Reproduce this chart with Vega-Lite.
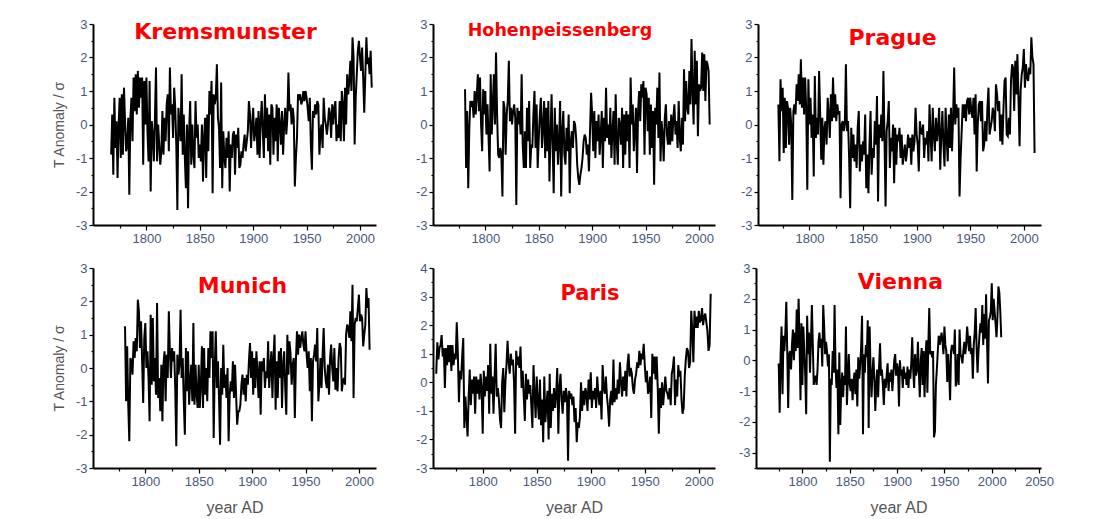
{
"$schema": "https://vega.github.io/schema/vega-lite/v6.json",
"background": "white",
"padding": {"left": 52, "top": 18, "right": 5, "bottom": 5},
"data": {"values": [
{"year":1757,"A":0.3},{"year":1758,"A":1.4},{"year":1759,"A":0.8},{"year":1760,"A":1.2},{"year":1761,"A":1.3},{"year":1762,"A":1.65},{"year":1763,"A":0.9},{"year":1764,"A":1.2},{"year":1765,"A":-0.2},{"year":1766,"A":1.2},
{"year":1767,"K":-0.9,"A":0.6},{"year":1768,"K":0.3,"A":1.3},{"year":1769,"K":-1.5,"A":0.7},{"year":1770,"K":0.8,"A":1.3},
{"year":1771,"K":-0.7,"P":0.6,"A":0.4},{"year":1772,"K":0.1,"P":-1.1,"A":1.3},{"year":1773,"K":-1.6,"P":1.35,"A":0.6},{"year":1774,"K":0.0,"P":0.4,"A":1.0},
{"year":1775,"K":0.8,"P":1.1,"A":0.8,"V":-0.1},{"year":1776,"K":-1.0,"P":-0.85,"A":2.1,"V":-1.7},{"year":1777,"K":0.9,"P":0.8,"A":1.0,"V":0.2},{"year":1778,"K":-0.9,"P":-0.7,"A":-0.7,"V":1.1},{"year":1779,"K":1.1,"P":0.7,"A":0.4,"V":-1.1},{"year":1780,"K":0.1,"P":0.5,"A":0.1,"V":0.8},
{"year":1781,"K":-0.8,"H":1.05,"P":-0.6,"M":1.25,"A":0.9,"V":0.3},
{"year":1782,"K":-0.6,"H":-1.3,"P":0.5,"M":-1.0,"A":1.55,"V":0.9},
{"year":1783,"K":0.2,"H":0.4,"P":0.0,"M":0.65,"A":-1.6,"V":1.9},
{"year":1784,"K":-2.1,"H":-1.9,"P":-2.25,"M":-1.1,"A":-0.5,"V":0.3},
{"year":1785,"K":0.2,"H":-0.1,"P":0.4,"M":-2.2,"A":-1.2,"V":-1.55},
{"year":1786,"K":0.8,"H":0.7,"P":0.6,"M":0.3,"A":-1.9,"V":0.2},
{"year":1787,"K":-0.5,"H":0.6,"P":0.3,"M":0.2,"A":-0.5,"V":0.3},
{"year":1788,"K":1.4,"H":0.7,"P":1.2,"M":-0.2,"A":0.45,"V":-0.3},
{"year":1789,"K":0.4,"H":0.2,"P":0.7,"M":0.8,"A":-0.8,"V":0.5},
{"year":1790,"K":1.5,"H":1.0,"P":1.5,"M":0.3,"A":0.1,"V":1.0},
{"year":1791,"K":0.3,"H":0.3,"P":0.6,"M":0.9,"A":-0.4,"V":0.0},
{"year":1792,"K":1.6,"H":0.9,"P":1.95,"M":0.5,"A":0.2,"V":0.9},
{"year":1793,"K":0.5,"H":1.5,"P":0.5,"M":2.05,"A":-1.1,"V":0.3},
{"year":1794,"K":1.4,"H":0.4,"P":1.4,"M":1.7,"A":0.2,"V":1.65},
{"year":1795,"K":0.8,"H":1.4,"P":0.3,"M":0.6,"A":-0.4,"V":0.4},
{"year":1796,"K":1.4,"H":0.0,"P":1.4,"M":1.4,"A":0.1,"V":2.0},
{"year":1797,"K":-1.2,"H":-0.8,"P":0.4,"M":0.2,"A":-0.6,"V":0.6},
{"year":1798,"K":1.3,"H":1.05,"P":-1.95,"M":-1.05,"A":0.3,"V":-1.3},
{"year":1799,"K":0.0,"H":0.3,"P":1.35,"M":0.9,"A":-0.2,"V":1.2},
{"year":1800,"K":1.4,"H":1.0,"P":0.0,"M":1.35,"A":-1.8,"V":-0.8},
{"year":1801,"K":-0.2,"H":-0.3,"P":0.8,"M":0.0,"A":0.4,"V":1.1},
{"year":1802,"K":-1.1,"H":0.6,"P":-0.4,"M":0.5,"A":-0.5,"V":0.3},
{"year":1803,"K":1.3,"H":-0.4,"P":0.3,"M":-0.3,"A":0.2,"V":-0.5},
{"year":1804,"K":-2.0,"H":-1.4,"P":-1.55,"M":-1.6,"A":-0.3,"V":-1.75},
{"year":1805,"K":0.1,"H":1.5,"P":1.45,"M":1.6,"A":0.6,"V":1.45},
{"year":1806,"K":-0.3,"H":-0.3,"P":-0.4,"M":-0.5,"A":-1.1,"V":0.2},
{"year":1807,"K":-1.1,"H":0.6,"P":0.2,"M":1.5,"A":1.35,"V":0.9},
{"year":1808,"K":0.2,"H":1.5,"P":-0.3,"M":-0.4,"A":-0.4,"V":-0.4},
{"year":1809,"K":1.7,"H":0.0,"P":1.6,"M":0.3,"A":0.2,"V":0.6},
{"year":1810,"K":-1.1,"H":2.15,"P":0.3,"M":-0.8,"A":-1.1,"V":1.8},
{"year":1811,"K":0.0,"H":0.3,"P":-1.05,"M":1.95,"A":0.2,"V":0.5},
{"year":1812,"K":-0.6,"H":-0.9,"P":0.2,"M":-0.9,"A":1.35,"V":-0.8},
{"year":1813,"K":-1.2,"H":-1.0,"P":-1.2,"M":-0.3,"A":-0.5,"V":-0.6},
{"year":1814,"K":-0.8,"H":-0.7,"P":-0.1,"M":-1.3,"A":-0.2,"V":-0.5},
{"year":1815,"K":0.4,"H":-0.9,"P":0.1,"M":0.1,"A":-0.6,"V":-0.8},
{"year":1816,"K":-0.9,"H":-2.15,"P":-0.6,"M":-1.6,"A":-1.3,"V":-0.3},
{"year":1817,"K":0.2,"H":0.7,"P":0.8,"M":0.1,"A":-1.6,"V":0.6},
{"year":1818,"K":-0.5,"H":0.5,"P":0.3,"M":0.5,"A":0.0,"V":0.9},
{"year":1819,"K":0.6,"H":-0.9,"P":-0.4,"M":-1.0,"A":0.5,"V":0.4},
{"year":1820,"K":0.9,"H":0.3,"P":0.9,"M":0.4,"A":-1.05,"V":0.7},
{"year":1821,"K":-0.8,"H":0.7,"P":0.1,"M":-0.3,"A":0.0,"V":-0.2},
{"year":1822,"K":1.7,"H":1.9,"P":1.4,"M":1.7,"A":0.6,"V":1.8},
{"year":1823,"K":0.3,"H":0.1,"P":0.2,"M":0.5,"A":1.45,"V":1.1},
{"year":1824,"K":0.6,"H":0.5,"P":0.9,"M":-0.3,"A":0.7,"V":0.2},
{"year":1825,"K":-0.4,"H":0.0,"P":0.1,"M":0.6,"A":0.3,"V":0.6},
{"year":1826,"K":1.1,"H":0.4,"P":0.6,"M":0.2,"A":1.0,"V":0.3},
{"year":1827,"K":0.5,"H":0.6,"P":0.3,"M":0.5,"A":0.6,"V":-0.2},
{"year":1828,"K":-0.6,"H":0.2,"P":0.4,"M":-0.6,"A":0.8,"V":0.2},
{"year":1829,"K":-2.55,"H":-2.4,"P":-2.2,"M":-2.35,"A":0.0,"V":-3.3},
{"year":1830,"K":0.5,"H":0.5,"P":0.0,"M":0.4,"A":-1.8,"V":-0.6},
{"year":1831,"K":0.0,"H":0.0,"P":0.1,"M":-0.2,"A":1.1,"V":-0.8},
{"year":1832,"K":-0.5,"H":0.4,"P":-0.2,"M":0.1,"A":0.6,"V":0.3},
{"year":1833,"K":1.5,"H":-0.3,"P":0.0,"M":1.75,"A":0.9,"V":-0.4},
{"year":1834,"K":-0.9,"H":1.5,"P":1.8,"M":-0.3,"A":0.5,"V":1.8},
{"year":1835,"K":0.3,"H":-0.6,"P":-0.2,"M":0.3,"A":1.25,"V":-0.2},
{"year":1836,"K":-1.0,"H":-1.3,"P":0.1,"M":-1.0,"A":-0.2,"V":-0.9},
{"year":1837,"K":-1.9,"H":-0.2,"P":-1.0,"M":-2.0,"A":0.4,"V":-0.3},
{"year":1838,"K":0.0,"H":-1.3,"P":-2.5,"M":0.6,"A":-0.5,"V":-2.4},
{"year":1839,"K":-2.5,"H":0.5,"P":-0.1,"M":-0.7,"A":-1.35,"V":0.25},
{"year":1840,"K":-0.2,"H":-0.5,"P":-1.0,"M":0.5,"A":0.3,"V":-2.1},
{"year":1841,"K":0.7,"H":0.7,"P":-0.3,"M":-1.1,"A":-0.6,"V":-0.9},
{"year":1842,"K":-1.2,"H":-1.3,"P":-1.1,"M":-0.4,"A":0.1,"V":-0.4},
{"year":1843,"K":0.0,"H":-0.6,"P":-0.6,"M":0.1,"A":-0.4,"V":-1.2},
{"year":1844,"K":-0.9,"H":-0.7,"P":-1.3,"M":-1.0,"A":-0.1,"V":-0.5},
{"year":1845,"K":-1.3,"H":0.3,"P":-0.1,"M":1.35,"A":-0.8,"V":-0.8},
{"year":1846,"K":0.7,"H":1.0,"P":0.4,"M":-1.1,"A":-1.6,"V":1.1},
{"year":1847,"K":-0.4,"H":-0.7,"P":-1.4,"M":0.1,"A":0.6,"V":-1.45},
{"year":1848,"K":0.0,"H":0.6,"P":-0.6,"M":-0.8,"A":-0.4,"V":-0.6},
{"year":1849,"K":-1.0,"H":-1.3,"P":-1.1,"M":-1.2,"A":-1.25,"V":0.2},
{"year":1850,"K":-0.6,"H":-0.4,"P":-0.5,"M":0.1,"A":0.2,"V":-0.8},
{"year":1851,"K":-1.1,"H":0.3,"P":-0.9,"M":-1.2,"A":-0.7,"V":-1.0},
{"year":1852,"K":0.0,"H":0.8,"P":0.3,"M":-0.5,"A":-1.3,"V":-0.6},
{"year":1853,"K":-1.7,"H":-0.7,"P":-1.9,"M":0.65,"A":0.1,"V":-1.3},
{"year":1854,"K":-0.4,"H":-0.1,"P":-0.9,"M":-1.2,"A":-1.5,"V":-0.7},
{"year":1855,"K":0.2,"H":0.7,"P":-2.05,"M":0.6,"A":-0.6,"V":-0.4},
{"year":1856,"K":-1.6,"H":-1.0,"P":-0.6,"M":-0.8,"A":-2.1,"V":-1.1},
{"year":1857,"K":0.3,"H":0.5,"P":0.4,"M":0.0,"A":0.2,"V":-0.3},
{"year":1858,"K":-0.8,"H":-0.8,"P":-1.5,"M":-1.0,"A":-1.4,"V":-1.5},
{"year":1859,"K":1.0,"H":0.7,"P":-0.7,"M":0.6,"A":-0.8,"V":0.1},
{"year":1860,"K":0.3,"H":-1.7,"P":-1.0,"M":-0.3,"A":-0.3,"V":-0.6},
{"year":1861,"K":1.3,"H":-0.4,"P":0.1,"M":1.1,"A":-2.0,"V":-0.2},
{"year":1862,"K":-2.05,"H":0.9,"P":-0.6,"M":0.3,"A":0.3,"V":0.4},
{"year":1863,"K":0.9,"H":-0.6,"P":0.85,"M":1.1,"A":-1.6,"V":1.45},
{"year":1864,"K":0.6,"H":-2.05,"P":-2.3,"M":-2.1,"A":-0.4,"V":-2.4},
{"year":1865,"K":0.8,"H":0.5,"P":0.0,"M":0.0,"A":-1.0,"V":0.2},
{"year":1866,"K":1.8,"H":-0.8,"P":-0.4,"M":1.1,"A":-0.2,"V":-0.4},
{"year":1867,"K":0.2,"H":0.0,"P":0.3,"M":-0.6,"A":-0.9,"V":0.5},
{"year":1868,"K":-0.1,"H":-1.2,"P":-0.5,"M":0.2,"A":-0.4,"V":0.1},
{"year":1869,"K":-1.3,"H":-0.5,"P":1.6,"M":-0.9,"A":0.5,"V":1.3},
{"year":1870,"K":1.25,"H":0.7,"P":-0.4,"M":-2.3,"A":-1.8,"V":-2.2},
{"year":1871,"K":-1.9,"H":-2.15,"P":-2.45,"M":0.0,"A":-0.2,"V":1.1},
{"year":1872,"K":-0.2,"H":-0.2,"P":-0.2,"M":-0.8,"A":0.3,"V":-0.3},
{"year":1873,"K":-1.0,"H":0.4,"P":0.1,"M":0.7,"A":-0.6,"V":-1.2},
{"year":1874,"K":-1.3,"H":-0.9,"P":0.7,"M":-0.6,"A":-1.1,"V":-0.4},
{"year":1875,"K":-0.4,"H":-1.2,"P":-1.3,"M":-0.2,"A":-0.3,"V":0.1},
{"year":1876,"K":-1.0,"H":-0.1,"P":-0.4,"M":-0.9,"A":-0.7,"V":-0.6},
{"year":1877,"K":-0.2,"H":-0.8,"P":-0.8,"M":0.0,"A":-0.2,"V":-1.65},
{"year":1878,"K":-2.0,"H":0.3,"P":0.0,"M":-2.2,"A":-0.5,"V":-0.8},
{"year":1879,"K":-0.6,"H":-2.05,"P":-1.75,"M":-0.8,"A":-2.75,"V":-0.3},
{"year":1880,"K":-1.0,"H":-0.5,"P":-0.1,"M":-0.4,"A":-0.3,"V":-1.2},
{"year":1881,"K":-0.3,"H":-0.2,"P":-1.2,"M":-0.7,"A":-0.5,"V":-0.2},
{"year":1882,"K":-0.2,"H":-0.7,"P":-0.3,"M":0.2,"A":-0.4,"V":0.55},
{"year":1883,"K":-1.5,"H":0.1,"P":-0.5,"M":-0.9,"A":-0.8,"V":-0.5},
{"year":1884,"K":-0.3,"H":0.0,"P":-0.1,"M":0.1,"A":-0.5,"V":-0.3},
{"year":1885,"K":-0.7,"H":-0.4,"P":-1.0,"M":-0.8,"A":-1.4,"V":-0.8},
{"year":1886,"K":-0.1,"H":-1.2,"P":-0.3,"M":-1.7,"A":-0.9,"V":-1.45},
{"year":1887,"K":-1.3,"H":-1.6,"P":-1.2,"M":-1.3,"A":-2.1,"V":-0.6},
{"year":1888,"K":-1.2,"H":-1.8,"P":-0.9,"M":-1.3,"A":-1.4,"V":-0.9},
{"year":1889,"K":-0.8,"H":-1.5,"P":-0.6,"M":-1.1,"A":-1.6,"V":-0.5},
{"year":1890,"K":-1.0,"H":-1.3,"P":-1.1,"M":-0.5,"A":-1.2,"V":-0.1},
{"year":1891,"K":-0.6,"H":-1.0,"P":-0.8,"M":-0.2,"A":0.0,"V":-1.0},
{"year":1892,"K":-0.3,"H":-0.5,"P":-0.3,"M":-0.8,"A":-1.0,"V":-0.4},
{"year":1893,"K":-0.8,"H":-0.3,"P":-0.7,"M":-0.3,"A":-0.3,"V":-0.7},
{"year":1894,"K":-0.5,"H":-0.4,"P":-0.4,"M":-1.0,"A":-0.8,"V":-0.3},
{"year":1895,"K":-0.2,"H":-0.9,"P":-1.2,"M":-0.2,"A":-0.2,"V":-1.0},
{"year":1896,"K":0.7,"H":-0.6,"P":-0.3,"M":-0.5,"A":-0.4,"V":-0.5},
{"year":1897,"K":0.3,"H":-1.4,"P":-0.8,"M":0.2,"A":-1.0,"V":0.0},
{"year":1898,"K":-0.7,"H":-0.2,"P":-0.5,"M":0.75,"A":0.1,"V":0.2},
{"year":1899,"K":0.0,"H":0.95,"P":0.5,"M":-0.3,"A":-0.6,"V":-0.5},
{"year":1900,"K":0.5,"H":0.3,"P":-0.3,"M":0.5,"A":0.35,"V":-0.1},
{"year":1901,"K":-0.5,"H":-0.8,"P":-0.6,"M":-0.8,"A":-0.9,"V":-0.3},
{"year":1902,"K":-0.2,"H":0.4,"P":-1.4,"M":0.3,"A":-0.3,"V":-1.5},
{"year":1903,"K":0.2,"H":-1.0,"P":0.1,"M":-0.6,"A":-0.6,"V":0.0},
{"year":1904,"K":-0.9,"H":0.1,"P":-0.2,"M":0.5,"A":-0.2,"V":-0.5},
{"year":1905,"K":0.4,"H":-0.5,"P":-0.3,"M":-0.1,"A":-0.9,"V":-0.3},
{"year":1906,"K":-1.0,"H":0.3,"P":0.0,"M":-0.9,"A":0.2,"V":-0.9},
{"year":1907,"K":0.1,"H":-0.9,"P":-1.0,"M":0.2,"A":-0.4,"V":-0.2},
{"year":1908,"K":0.7,"H":-0.3,"P":-0.4,"M":-1.4,"A":-0.8,"V":-0.6},
{"year":1909,"K":-0.2,"H":0.4,"P":-0.6,"M":0.2,"A":-0.3,"V":-0.4},
{"year":1910,"K":-1.0,"H":-1.3,"P":-0.2,"M":-0.1,"A":-1.3,"V":-0.8},
{"year":1911,"K":0.9,"H":0.2,"P":-1.1,"M":0.3,"A":0.6,"V":-0.2},
{"year":1912,"K":-0.4,"H":-0.5,"P":0.6,"M":-0.6,"A":-0.2,"V":-0.9},
{"year":1913,"K":0.5,"H":1.1,"P":-0.3,"M":-0.1,"A":-0.4,"V":-0.3},
{"year":1914,"K":-0.8,"H":-0.4,"P":-1.1,"M":-0.3,"A":0.2,"V":-0.6},
{"year":1915,"K":0.3,"H":0.0,"P":0.5,"M":0.8,"A":-0.5,"V":-0.1},
{"year":1916,"K":-1.2,"H":-0.6,"P":-0.3,"M":-0.6,"A":-0.9,"V":0.75},
{"year":1917,"K":0.6,"H":0.5,"P":-0.8,"M":0.0,"A":-1.55,"V":-0.3},
{"year":1918,"K":0.5,"H":-1.0,"P":0.2,"M":0.5,"A":-0.6,"V":-0.9},
{"year":1919,"K":-0.9,"H":-0.2,"P":-0.5,"M":-0.9,"A":-0.3,"V":0.2},
{"year":1920,"K":0.2,"H":0.4,"P":-0.1,"M":0.3,"A":-0.8,"V":-0.5},
{"year":1921,"K":-0.5,"H":-1.2,"P":0.5,"M":1.0,"A":0.8,"V":-0.3},
{"year":1922,"K":0.6,"H":0.9,"P":-1.35,"M":-1.25,"A":-0.7,"V":0.6},
{"year":1923,"K":-1.1,"H":-0.5,"P":-0.3,"M":0.2,"A":-0.2,"V":-0.4},
{"year":1924,"K":0.5,"H":-1.2,"P":0.4,"M":-0.9,"A":-0.6,"V":-1.2},
{"year":1925,"K":0.0,"H":0.2,"P":-0.6,"M":0.5,"A":0.1,"V":0.0},
{"year":1926,"K":-0.6,"H":0.0,"P":-1.25,"M":-0.3,"A":-0.4,"V":0.4},
{"year":1927,"K":0.4,"H":-0.6,"P":0.5,"M":0.6,"A":0.7,"V":-0.8},
{"year":1928,"K":-0.9,"H":0.5,"P":-0.4,"M":-1.2,"A":0.0,"V":0.3},
{"year":1929,"K":0.0,"H":-1.3,"P":-1.1,"M":0.1,"A":-0.5,"V":-1.2},
{"year":1930,"K":0.5,"H":0.3,"P":0.3,"M":0.5,"A":0.2,"V":0.1},
{"year":1931,"K":-0.3,"H":-0.9,"P":-0.7,"M":-0.6,"A":-0.3,"V":0.65},
{"year":1932,"K":0.2,"H":0.4,"P":0.5,"M":-1.4,"A":0.4,"V":-1.05},
{"year":1933,"K":1.55,"H":-0.5,"P":-0.8,"M":1.0,"A":-0.5,"V":0.5},
{"year":1934,"K":0.4,"H":0.3,"P":0.2,"M":-0.2,"A":0.6,"V":1.7},
{"year":1935,"K":0.6,"H":-1.3,"P":1.7,"M":0.8,"A":1.0,"V":0.2},
{"year":1936,"K":0.0,"H":1.4,"P":0.0,"M":0.4,"A":0.2,"V":0.3},
{"year":1937,"K":0.5,"H":0.0,"P":0.6,"M":-0.5,"A":0.5,"V":0.1},
{"year":1938,"K":0.2,"H":0.6,"P":0.2,"M":0.1,"A":0.3,"V":0.3},
{"year":1939,"K":-1.85,"H":-0.8,"P":0.5,"M":0.3,"A":-0.2,"V":-2.5},
{"year":1940,"K":-1.0,"H":-0.2,"P":-2.15,"M":-1.5,"A":-0.4,"V":-2.3},
{"year":1941,"K":-0.4,"H":0.5,"P":-1.0,"M":0.2,"A":0.1,"V":-0.8},
{"year":1942,"K":0.9,"H":-1.45,"P":-0.2,"M":1.1,"A":0.3,"V":-0.3},
{"year":1943,"K":0.8,"H":0.4,"P":0.6,"M":0.4,"A":0.7,"V":0.3},
{"year":1944,"K":0.9,"H":1.0,"P":0.2,"M":1.0,"A":0.5,"V":0.8},
{"year":1945,"K":0.6,"H":0.1,"P":0.6,"M":0.6,"A":1.1,"V":0.5},
{"year":1946,"K":0.7,"H":1.2,"P":0.1,"M":0.9,"A":0.6,"V":0.7},
{"year":1947,"K":1.0,"H":0.8,"P":0.7,"M":1.1,"A":1.0,"V":0.9},
{"year":1948,"K":0.7,"H":1.3,"P":0.8,"M":0.7,"A":0.8,"V":0.6},
{"year":1949,"K":1.0,"H":-0.9,"P":0.3,"M":0.5,"A":1.35,"V":0.2},
{"year":1950,"K":0.8,"H":1.1,"P":0.8,"M":1.1,"A":0.6,"V":1.1},
{"year":1951,"K":0.5,"H":0.9,"P":0.4,"M":0.4,"A":0.0,"V":0.5},
{"year":1952,"K":0.1,"H":-0.2,"P":0.2,"M":0.0,"A":0.4,"V":0.3},
{"year":1953,"K":0.8,"H":0.8,"P":0.8,"M":0.5,"A":-0.4,"V":-0.7},
{"year":1954,"K":-0.6,"H":-0.9,"P":-0.3,"M":-0.7,"A":-0.2,"V":0.2},
{"year":1955,"K":-1.35,"H":0.6,"P":0.9,"M":0.3,"A":0.2,"V":-0.4},
{"year":1956,"K":0.4,"H":-0.7,"P":-1.4,"M":-1.6,"A":-1.25,"V":-1.3},
{"year":1957,"K":0.2,"H":0.4,"P":0.0,"M":0.2,"A":1.0,"V":0.3},
{"year":1958,"K":0.6,"H":-1.8,"P":0.6,"M":0.4,"A":0.3,"V":0.5},
{"year":1959,"K":0.3,"H":0.5,"P":0.7,"M":0.7,"A":0.9,"V":0.4},
{"year":1960,"K":0.7,"H":0.0,"P":0.1,"M":0.2,"A":0.1,"V":0.2},
{"year":1961,"K":0.6,"H":1.1,"P":0.7,"M":1.2,"A":0.9,"V":1.0},
{"year":1962,"K":-0.9,"H":-0.4,"P":-0.8,"M":-1.0,"A":-0.2,"V":-0.85},
{"year":1963,"K":-0.2,"H":1.55,"P":-0.6,"M":-0.5,"A":-1.8,"V":-0.6},
{"year":1964,"K":0.0,"H":-1.1,"P":0.1,"M":0.3,"A":-0.2,"V":0.2},
{"year":1965,"K":-0.7,"H":0.1,"P":-0.5,"M":-0.6,"A":-0.9,"V":-0.8},
{"year":1966,"K":0.8,"H":-0.3,"P":0.5,"M":0.4,"A":0.0,"V":1.0},
{"year":1967,"K":0.2,"H":-1.1,"P":1.1,"M":1.2,"A":-0.8,"V":0.2},
{"year":1968,"K":0.0,"H":0.2,"P":-0.3,"M":0.0,"A":-0.3,"V":0.1},
{"year":1969,"K":-0.3,"H":0.6,"P":-0.1,"M":-0.4,"A":0.2,"V":-0.1},
{"year":1970,"K":0.0,"H":-0.3,"P":0.1,"M":-0.6,"A":-0.3,"V":0.3},
{"year":1971,"K":0.5,"H":-0.6,"P":0.5,"M":0.1,"A":-0.4,"V":0.6},
{"year":1972,"K":0.3,"H":0.1,"P":0.3,"M":-0.8,"A":-0.6,"V":0.2},
{"year":1973,"K":-0.4,"H":-0.6,"P":-0.2,"M":0.3,"A":-0.2,"V":0.5},
{"year":1974,"K":0.6,"H":0.3,"P":1.2,"M":0.7,"A":-0.8,"V":1.1},
{"year":1975,"K":0.0,"H":-0.5,"P":0.9,"M":0.0,"A":0.3,"V":0.7},
{"year":1976,"K":0.5,"H":0.2,"P":0.4,"M":-0.4,"A":0.5,"V":0.3},
{"year":1977,"K":0.7,"H":0.6,"P":0.7,"M":0.6,"A":0.9,"V":0.8},
{"year":1978,"K":-0.5,"H":-0.3,"P":-0.5,"M":-0.65,"A":-0.8,"V":0.2},
{"year":1979,"K":0.0,"H":0.1,"P":0.3,"M":0.0,"A":0.1,"V":0.4},
{"year":1980,"K":-0.4,"H":-0.7,"P":-0.6,"M":-0.7,"A":-0.5,"V":-0.6},
{"year":1981,"K":0.7,"H":0.7,"P":0.5,"M":0.3,"A":0.6,"V":0.5},
{"year":1982,"K":-0.5,"H":-0.4,"P":1.3,"M":0.75,"A":0.2,"V":0.9},
{"year":1983,"K":1.0,"H":-0.8,"P":1.4,"M":0.6,"A":0.4,"V":1.7},
{"year":1984,"K":0.6,"H":0.2,"P":-0.3,"M":-0.7,"A":-0.6,"V":0.4},
{"year":1985,"K":-0.5,"H":-0.6,"P":-0.35,"M":-0.4,"A":-1.1,"V":-0.4},
{"year":1986,"K":1.1,"H":1.65,"P":0.2,"M":-0.3,"A":-0.9,"V":0.3},
{"year":1987,"K":0.0,"H":0.1,"P":-0.3,"M":-0.5,"A":0.2,"V":0.8},
{"year":1988,"K":1.5,"H":1.3,"P":1.3,"M":1.0,"A":0.8,"V":1.2},
{"year":1989,"K":0.9,"H":0.5,"P":1.8,"M":1.3,"A":1.2,"V":0.9},
{"year":1990,"K":1.3,"H":0.3,"P":1.7,"M":1.2,"A":1.1,"V":1.8},
{"year":1991,"K":1.9,"H":1.6,"P":0.4,"M":0.9,"A":0.5,"V":0.5},
{"year":1992,"K":1.0,"H":0.6,"P":1.9,"M":1.7,"A":0.7,"V":1.5},
{"year":1993,"K":2.6,"H":2.55,"P":0.9,"M":0.8,"A":2.5,"V":0.7},
{"year":1994,"K":2.0,"H":1.0,"P":2.1,"M":2.5,"A":1.8,"V":2.15},
{"year":1995,"K":-0.6,"H":0.0,"P":0.8,"M":-0.9,"A":0.7,"V":0.6},
{"year":1996,"K":0.8,"H":2.2,"P":-0.65,"M":1.3,"A":2.5,"V":-0.75},
{"year":1997,"K":1.5,"H":0.6,"P":1.0,"M":1.5,"A":1.9,"V":1.3},
{"year":1998,"K":2.2,"H":1.9,"P":1.5,"M":1.4,"A":2.3,"V":1.4},
{"year":1999,"K":2.5,"H":-0.35,"P":1.7,"M":1.8,"A":1.9,"V":1.6},
{"year":2000,"K":2.0,"H":1.2,"P":2.25,"M":2.2,"A":2.5,"V":2.5},
{"year":2001,"K":1.6,"H":1.0,"P":1.1,"M":1.4,"A":2.1,"V":1.3},
{"year":2002,"K":2.3,"H":1.1,"P":1.8,"M":1.6,"A":2.2,"V":2.0},
{"year":2003,"K":1.4,"H":2.15,"P":1.4,"M":1.5,"A":2.6,"V":1.6},
{"year":2004,"K":0.35,"H":1.0,"P":1.3,"M":0.65,"A":2.0,"V":1.2},
{"year":2005,"K":1.5,"H":2.1,"P":1.7,"M":1.0,"A":2.3,"V":0.75},
{"year":2006,"K":2.6,"H":0.7,"P":1.5,"M":1.3,"A":2.4,"V":1.4},
{"year":2007,"K":1.8,"H":1.9,"P":2.6,"M":2.4,"A":2.1,"V":2.4},
{"year":2008,"K":2.0,"H":1.8,"P":2.0,"M":1.8,"A":1.8,"V":2.2},
{"year":2009,"K":1.5,"H":1.6,"P":1.8,"M":2.1,"A":1.1,"V":1.6},
{"year":2010,"K":2.2,"H":0.0,"P":-0.85,"M":0.55,"A":1.3,"V":0.75},
{"year":2011,"K":1.1,"A":3.1}
]},
"vconcat": [
{"hconcat": [
 {"width": 283, "height": 201,
  "title": {"text": "Kremsmunster", "fontSize": 22, "offset": -26, "dx": -9},
  "transform": [{"filter": "isValid(datum.K)"}],
  "mark": {"type": "line", "color": "#000", "strokeWidth": 2},
  "encoding": {
   "x": {"field": "year", "type": "quantitative", "scale": {"domain": [1750, 2015], "nice": false, "zero": false},
    "axis": {"title": null, "values": [1775,1800,1825,1850,1875,1900,1925,1950,1975,2000], "labelExpr": "datum.value % 50 == 0 ? '' + datum.value : ''", "tickSize": {"condition": {"test": "datum.value % 50 != 0", "value": 3}, "value": 5}}},
   "y": {"field": "K", "type": "quantitative", "scale": {"domain": [-3, 3], "nice": false, "zero": false},
    "axis": {"title": "T Anomaly / σ", "values": [-3,-2.5,-2,-1.5,-1,-0.5,0,0.5,1,1.5,2,2.5,3], "labelExpr": "datum.value % 1 == 0 ? '' + datum.value : ''", "tickSize": {"condition": {"test": "datum.value % 1 != 0", "value": 2}, "value": 4}}}
  }},
 {"hconcat": [
  {"width": 282, "height": 201,
   "title": {"text": "Hohenpeissenberg", "fontSize": 17.5, "offset": -21, "dx": -14},
   "transform": [{"filter": "isValid(datum.H)"}],
   "mark": {"type": "line", "color": "#000", "strokeWidth": 2},
   "encoding": {
    "x": {"field": "year", "type": "quantitative", "scale": {"domain": [1751, 2015], "nice": false, "zero": false},
     "axis": {"title": null, "values": [1775,1800,1825,1850,1875,1900,1925,1950,1975,2000], "labelExpr": "datum.value % 50 == 0 ? '' + datum.value : ''", "tickSize": {"condition": {"test": "datum.value % 50 != 0", "value": 3}, "value": 5}}},
    "y": {"field": "H", "type": "quantitative", "scale": {"domain": [-3, 3], "nice": false, "zero": false},
     "axis": {"title": null, "values": [-3,-2.5,-2,-1.5,-1,-0.5,0,0.5,1,1.5,2,2.5,3], "labelExpr": "datum.value % 1 == 0 ? '' + datum.value : ''", "tickSize": {"condition": {"test": "datum.value % 1 != 0", "value": 2}, "value": 4}}}
   }},
  {"width": 283, "height": 201,
   "title": {"text": "Prague", "fontSize": 22, "offset": -32, "dx": -7},
   "transform": [{"filter": "isValid(datum.P)"}],
   "mark": {"type": "line", "color": "#000", "strokeWidth": 2},
   "encoding": {
    "x": {"field": "year", "type": "quantitative", "scale": {"domain": [1752, 2016], "nice": false, "zero": false},
     "axis": {"title": null, "values": [1775,1800,1825,1850,1875,1900,1925,1950,1975,2000], "labelExpr": "datum.value % 50 == 0 ? '' + datum.value : ''", "tickSize": {"condition": {"test": "datum.value % 50 != 0", "value": 3}, "value": 5}}},
    "y": {"field": "P", "type": "quantitative", "scale": {"domain": [-3, 3], "nice": false, "zero": false},
     "axis": {"title": null, "values": [-3,-2.5,-2,-1.5,-1,-0.5,0,0.5,1,1.5,2,2.5,3], "labelExpr": "datum.value % 1 == 0 ? '' + datum.value : ''", "tickSize": {"condition": {"test": "datum.value % 1 != 0", "value": 2}, "value": 4}}}
   }}
 ], "spacing": 25}
], "spacing": 39},
{"hconcat": [
 {"width": 283, "height": 200,
  "title": {"text": "Munich", "fontSize": 22, "offset": -36, "dx": 8},
  "transform": [{"filter": "isValid(datum.M)"}],
  "mark": {"type": "line", "color": "#000", "strokeWidth": 2},
  "encoding": {
   "x": {"field": "year", "type": "quantitative", "scale": {"domain": [1751, 2016], "nice": false, "zero": false},
    "axis": {"title": "year AD", "values": [1775,1800,1825,1850,1875,1900,1925,1950,1975,2000], "labelExpr": "datum.value % 50 == 0 ? '' + datum.value : ''", "tickSize": {"condition": {"test": "datum.value % 50 != 0", "value": 3}, "value": 5}}},
   "y": {"field": "M", "type": "quantitative", "scale": {"domain": [-3, 3], "nice": false, "zero": false},
    "axis": {"title": "T Anomaly / σ", "values": [-3,-2.5,-2,-1.5,-1,-0.5,0,0.5,1,1.5,2,2.5,3], "labelExpr": "datum.value % 1 == 0 ? '' + datum.value : ''", "tickSize": {"condition": {"test": "datum.value % 1 != 0", "value": 2}, "value": 4}}}
  }},
 {"hconcat": [
  {"width": 282, "height": 200,
   "title": {"text": "Paris", "fontSize": 21, "offset": -42, "dx": 16},
   "transform": [{"filter": "isValid(datum.A)"}],
   "mark": {"type": "line", "color": "#000", "strokeWidth": 2},
   "encoding": {
    "x": {"field": "year", "type": "quantitative", "scale": {"domain": [1754, 2015], "nice": false, "zero": false},
     "axis": {"title": "year AD", "values": [1775,1800,1825,1850,1875,1900,1925,1950,1975,2000], "labelExpr": "datum.value % 50 == 0 ? '' + datum.value : ''", "tickSize": {"condition": {"test": "datum.value % 50 != 0", "value": 3}, "value": 5}}},
    "y": {"field": "A", "type": "quantitative", "scale": {"domain": [-3, 4], "nice": false, "zero": false},
     "axis": {"title": null, "values": [-3,-2.5,-2,-1.5,-1,-0.5,0,0.5,1,1.5,2,2.5,3,3.5,4], "labelExpr": "datum.value % 1 == 0 ? '' + datum.value : ''", "tickSize": {"condition": {"test": "datum.value % 1 != 0", "value": 2}, "value": 4}}}
   }},
  {"width": 285, "height": 200,
   "title": {"text": "Vienna", "fontSize": 22, "offset": -32, "dx": 2},
   "transform": [{"filter": "isValid(datum.V)"}],
   "mark": {"type": "line", "color": "#000", "strokeWidth": 2},
   "encoding": {
    "x": {"field": "year", "type": "quantitative", "scale": {"domain": [1751, 2052], "nice": false, "zero": false},
     "axis": {"title": "year AD", "values": [1775,1800,1825,1850,1875,1900,1925,1950,1975,2000,2025,2050], "labelExpr": "datum.value % 50 == 0 ? '' + datum.value : ''", "tickSize": {"condition": {"test": "datum.value % 50 != 0", "value": 3}, "value": 5}}},
    "y": {"field": "V", "type": "quantitative", "scale": {"domain": [-3.5, 3], "nice": false, "zero": false},
     "axis": {"title": null, "values": [-3.5,-3,-2.5,-2,-1.5,-1,-0.5,0,0.5,1,1.5,2,2.5,3], "labelExpr": "datum.value % 1 == 0 ? '' + datum.value : ''", "tickSize": {"condition": {"test": "datum.value % 1 != 0", "value": 2}, "value": 4}}}
   }}
 ], "spacing": 23}
], "spacing": 39}
],
"spacing": 17,
"config": {
 "view": {"stroke": null},
 "axis": {"grid": false, "domainColor": "#000", "domainWidth": 2, "tickColor": "#000", "tickWidth": 1.2, "labelFont": "Liberation Sans", "labelFontSize": 13, "labelColor": "#4a5878", "labelPadding": 2, "labelFlush": false, "labelOverlap": false, "titleFont": "Liberation Sans", "titleFontWeight": "normal", "titleColor": "#555555"},
 "axisY": {"titleFontSize": 14, "titlePadding": 9},
 "axisX": {"titleFontSize": 16, "titlePadding": 11},
 "title": {"font": "DejaVu Sans", "fontWeight": "bold", "color": "#ff0000", "anchor": "middle", "baseline": "alphabetic", "frame": "group"}
}
}
